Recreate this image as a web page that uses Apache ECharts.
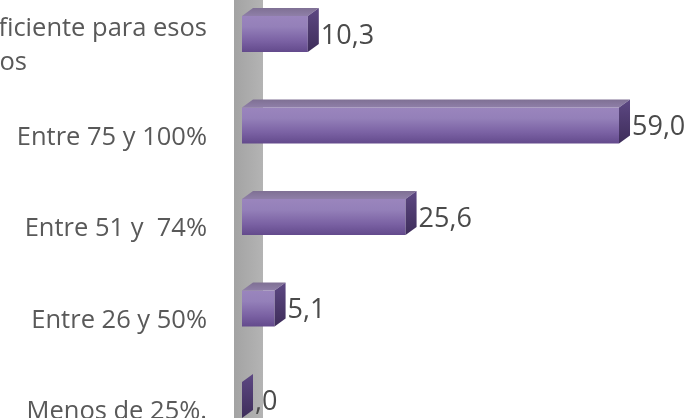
<!DOCTYPE html>
<html><head><meta charset="utf-8">
<script src="https://cdn.jsdelivr.net/npm/echarts@6/dist/echarts.min.js"></script>
<style>html,body{margin:0;padding:0;background:#fff}#c{width:696px;height:418px}</style>
</head><body><div id="c"></div>
<script>
const categories = ['ficiente para esos\nos', 'Entre 75 y 100%', 'Entre 51 y  74%', 'Entre 26 y 50%', 'Menos de 25%.'];
const values = [10.3, 59.0, 25.6, 5.1, 0.0];

function fmt(v) {
  let s = v.toFixed(1).replace('.', ',');
  if (s.startsWith('0,')) s = s.slice(1);
  return s;
}

const chart = echarts.init(document.getElementById('c'), null, {renderer: 'canvas'});
const DX = 11, DY = -8;
const FONT = '"Open Sans", sans-serif';

chart.setOption({
  animation: false,
  grid: {left: 242, top: -11.75, height: 457.5, width: 447.3, containLabel: false, outerBoundsMode: 'none'},
  xAxis: {type: 'value', min: 0, max: 70, show: false},
  yAxis: {
    type: 'category', data: categories, inverse: true,
    axisLine: {show: false}, axisTick: {show: false},
    axisLabel: {
      margin: 35, fontSize: 25.5, color: '#595959', fontFamily: FONT,
      lineHeight: 34, padding: [24, 0, 0, 0],
      formatter: function (v, i) {
        const p = v.split('\n');
        if (p.length > 1) return '{a|' + p[0] + '}\n{p|' + p[1] + '}';
        return '{a|' + v + '}';
      },
      rich: {
        a: {fontSize: 25.5, color: '#595959', fontFamily: FONT, lineHeight: 34},
        p: {fontSize: 25.5, color: '#595959', fontFamily: FONT, lineHeight: 34, padding: [0, 180, 0, 0]}
      }
    }
  },
  series: [{
    type: 'custom',
    clip: false,
    data: values.map((v, i) => [v, i]),
    encode: {x: 0, y: 1},
    renderItem: function (params, api) {
      const v = api.value(0), idx = api.value(1);
      const base = api.coord([0, idx]);
      const end = api.coord([v, idx]);
      const band = api.size([0, 1])[1];
      const h = band * 0.393;
      const x0 = base[0], x1 = end[0];
      const y0 = base[1] - h / 2;
      const children = [];
      children.push({
        type: 'rect', shape: {x: x0 - 8, y: base[1] - band / 2 - 0.5, width: 29, height: band + 1},
        style: {fill: new echarts.graphic.LinearGradient(0, 0, 1, 0, [
          {offset: 0, color: '#a3a3a3'}, {offset: 0.6, color: '#adadad'}, {offset: 1, color: '#b4b4b4'}])}
      });
      if (x1 - x0 > 0.5) {
        children.push({
          type: 'rect', shape: {x: x0, y: y0, width: x1 - x0, height: h},
          style: {fill: new echarts.graphic.LinearGradient(0, 0, 0, 1, [
            {offset: 0, color: '#9a85bd'}, {offset: 0.3, color: '#9480b9'},
            {offset: 0.7, color: '#7a61a3'}, {offset: 1, color: '#634a8c'}])}
        });
        children.push({
          type: 'polygon', shape: {points: [[x0, y0], [x0 + DX, y0 + DY], [x1 + DX, y0 + DY], [x1, y0]]},
          style: {fill: new echarts.graphic.LinearGradient(0, 0, 0, 1, [
            {offset: 0, color: '#7f7094'}, {offset: 1, color: '#8f7fa8'}])}
        });
      }
      children.push({
        type: 'polygon', shape: {points: [[x1, y0], [x1 + DX, y0 + DY], [x1 + DX, y0 + h + DY], [x1, y0 + h]]},
        style: {fill: new echarts.graphic.LinearGradient(0, 0, 0, 1, [
          {offset: 0, color: '#5d4883'}, {offset: 1, color: '#3e2d5a'}])}
      });
      children.push({
        type: 'text',
        style: {text: fmt(v), x: x1 + DX + 2, y: base[1] + 2, verticalAlign: 'middle', align: 'left',
          fontSize: 27, fontFamily: FONT, fill: '#4a4a4a'}
      });
      return {type: 'group', children: children};
    }
  }]
});
</script></body></html>
